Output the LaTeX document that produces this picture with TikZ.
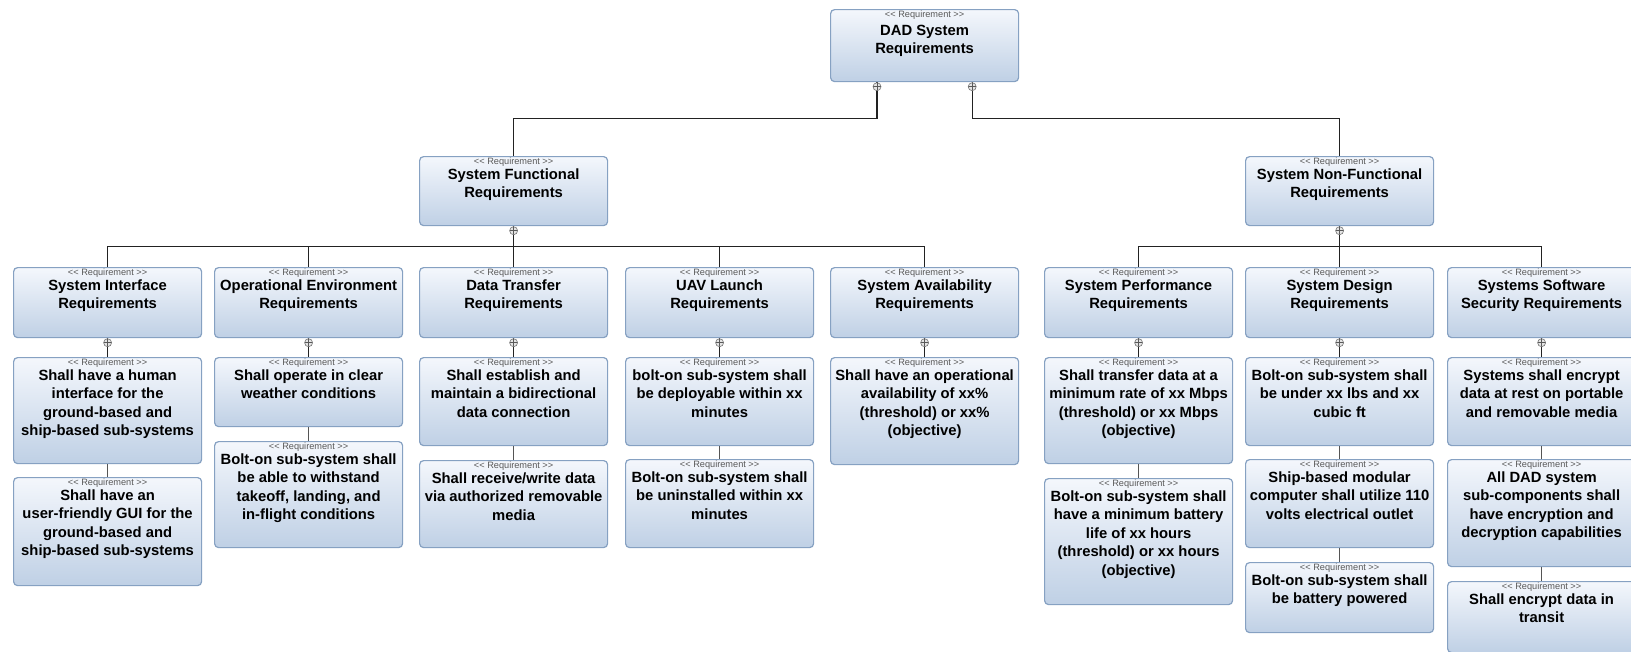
\documentclass[tikz,border=0pt]{standalone}
\usepackage{fontspec}
\setmainfont{Liberation Sans}
\usetikzlibrary{calc}

\definecolor{reqedge}{HTML}{86A1C2}
\definecolor{reqtop}{HTML}{F4F7FC}
\definecolor{reqbot}{HTML}{BFD0E5}
\definecolor{wire}{HTML}{222222}
\definecolor{linkgray}{HTML}{555555}

\tikzset{
  reqbox/.style={draw=reqedge, line width=1.2pt, rounded corners=4pt,
    top color=reqtop, bottom color=reqbot, minimum width=188pt, inner sep=0pt},
  stereo/.style={font=\fontsize{9.2}{10}\selectfont, text=black!65, anchor=base, inner sep=0pt},
  reqtitle/.style={font=\fontsize{14.8}{18.5}\selectfont\bfseries, align=center,
    anchor=north, inner sep=0pt},
  wireline/.style={draw=wire, line width=1.3pt},
  linkline/.style={draw=linkgray, line width=1.5pt},
  plusmark/.style={circle, draw=gray!90!black, fill=gray!20, minimum size=8pt,
    inner sep=0pt, line width=0.6pt,
    path picture={\draw[line width=0.5pt, gray!70!black]
      (path picture bounding box.north) -- (path picture bounding box.south)
      (path picture bounding box.west) -- (path picture bounding box.east);}}
}

% stereotype label, kerned so that << and >> stay two characters
\newcommand\stereotext{<\kern0pt< Requirement >\kern0pt>}

% #1 name, #2 left x, #3 top y, #4 bottom y, #5 text, #6 offset of the text
\newcommand\reqnode[6][12.5]{%
  \node[reqbox, minimum height={#5-#4}, anchor=north west] (#2) at (#3,#4) {};
  \node[stereo] (#2-st) at ($(#2.north)+(0,8)$) {\stereotext};
  \node[reqtitle] (#2-tx) at ($(#2.north)+(0,#1)$) {#6};
}

\begin{document}
\begin{tikzpicture}[x=1pt,y=-1pt]
\useasboundingbox (0,0) rectangle (1631,651);

% root and the two requirement groups
\reqnode[15.5]{dad}{830}{9}{81}{DAD System\\Requirements}
\reqnode{fn}{419}{156}{225}{System Functional\\Requirements}
\reqnode{nf}{1245}{156}{225}{System Non-Functional\\Requirements}

% second level
\reqnode{c1}{13}{267}{337}{System Interface\\Requirements}
\reqnode{c2}{214}{267}{337}{Operational Environment\\Requirements}
\reqnode{c3}{419}{267}{337}{Data Transfer\\Requirements}
\reqnode{c4}{625}{267}{337}{UAV Launch\\Requirements}
\reqnode{c5}{830}{267}{337}{System Availability\\Requirements}
\reqnode{c6}{1044}{267}{337}{System Performance\\Requirements}
\reqnode{c7}{1245}{267}{337}{System Design\\Requirements}
\reqnode{c8}{1447}{267}{337}{Systems Software\\Security Requirements}

% leaf requirements
\reqnode{c1a}{13}{357}{463}{Shall have a human\\interface for the\\ground-based and\\ship-based sub-systems}
\reqnode{c1b}{13}{477}{585}{Shall have an\\user-friendly GUI for the\\ground-based and\\ship-based sub-systems}
\reqnode{c2a}{214}{357}{426}{Shall operate in clear\\weather conditions}
\reqnode{c2b}{214}{441}{547}{Bolt-on sub-system shall\\be able to withstand\\takeoff, landing, and\\in-flight conditions}
\reqnode{c3a}{419}{357}{445}{Shall establish and\\maintain a bidirectional\\data connection}
\reqnode{c3b}{419}{460}{547}{Shall receive/write data\\via authorized removable\\media}
\reqnode{c4a}{625}{357}{445}{bolt-on sub-system shall\\be deployable within xx\\minutes}
\reqnode{c4b}{625}{459}{547}{Bolt-on sub-system shall\\be uninstalled within xx\\minutes}
\reqnode{c5a}{830}{357}{464}{Shall have an operational\\availability of xx\%\\(threshold) or xx\%\\(objective)}
\reqnode{c6a}{1044}{357}{463}{Shall transfer data at a\\minimum rate of xx Mbps\\(threshold) or xx Mbps\\(objective)}
\reqnode{c6b}{1044}{478}{604}{Bolt-on sub-system shall\\have a minimum battery\\life of xx hours\\(threshold) or xx hours\\(objective)}
\reqnode{c7a}{1245}{357}{445}{Bolt-on sub-system shall\\be under xx lbs and xx\\cubic ft}
\reqnode{c7b}{1245}{459}{547}{Ship-based modular\\computer shall utilize 110\\volts electrical outlet}
\reqnode{c7c}{1245}{562}{632}{Bolt-on sub-system shall\\be battery powered}
\reqnode{c8a}{1447}{357}{445}{Systems shall encrypt\\data at rest on portable\\and removable media}
\reqnode{c8b}{1447}{459}{566}{All DAD system\\sub-components shall\\have encryption and\\decryption capabilities}
\reqnode{c8c}{1447}{581}{652}{Shall encrypt data in\\transit}

% root containment lines
\coordinate (dadL) at ([xshift=47pt]dad.south west);
\coordinate (dadR) at ([xshift=-47pt]dad.south east);
\draw[wireline] (dadL) -- ++(0,36) -| (fn.north);
\draw[wireline] (dadR) -- ++(0,36) -| (nf.north);

% functional group bus
\coordinate (fbus) at ($(fn.south)!0.5!(c3.north)$);
\draw[wireline] (fn.south) -- (c3.north);
\draw[wireline] (c1.north) |- (fbus) -| (c5.north);
\draw[wireline] (fbus -| c2.north) -- (c2.north);
\draw[wireline] (fbus -| c4.north) -- (c4.north);

% non-functional group bus
\coordinate (nbus) at ($(nf.south)!0.5!(c7.north)$);
\draw[wireline] (nf.south) -- (c7.north);
\draw[wireline] (c6.north) |- (nbus) -| (c8.north);

% second level to leaves
\foreach \c in {c1,c2,c3,c4,c5,c6,c7,c8}
  \draw[wireline] (\c.south) -- (\c a.north);

% chains between leaves
\draw[linkline] (c1a.south) -- (c1b.north);
\draw[linkline] (c2a.south) -- (c2b.north);
\draw[linkline] (c3a.south) -- (c3b.north);
\draw[linkline] (c4a.south) -- (c4b.north);
\draw[linkline] (c6a.south) -- (c6b.north);
\draw[linkline] (c7a.south) -- (c7b.north);
\draw[linkline] (c7b.south) -- (c7c.north);
\draw[linkline] (c8a.south) -- (c8b.north);
\draw[linkline] (c8b.south) -- (c8c.north);

% containment markers below each parent
\node[plusmark] (mdl) at ($(dadL)+(0,4.5)$) {};
\node[plusmark] (mdr) at ($(dadR)+(0,4.5)$) {};
\node[plusmark] (mfn) at ($(fn.south)+(0,4.5)$) {};
\node[plusmark] (mnf) at ($(nf.south)+(0,4.5)$) {};
\foreach \c in {c1,c2,c3,c4,c5,c6,c7,c8}
  \node[plusmark] (m\c) at ($(\c.south)+(0,4.5)$) {};
\end{tikzpicture}
\end{document}
